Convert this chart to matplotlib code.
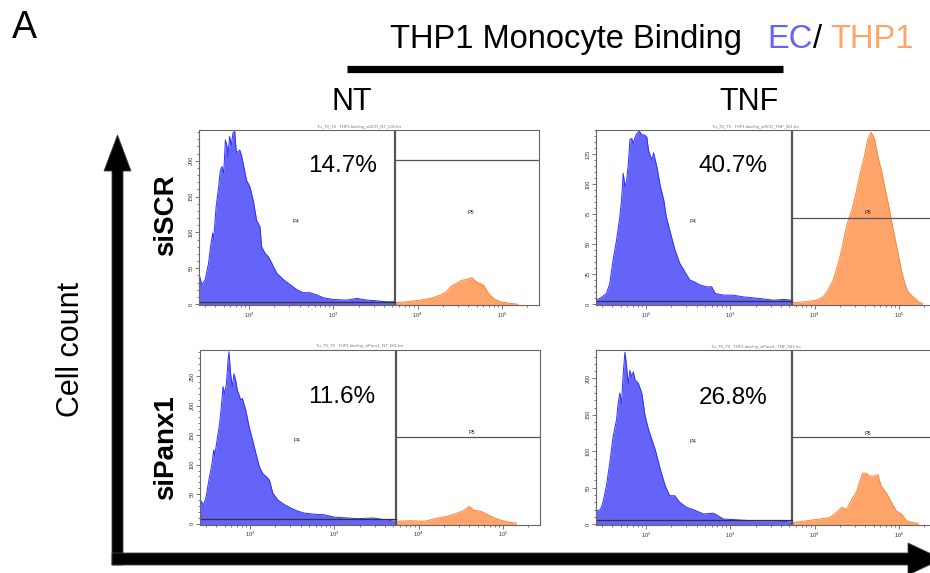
import numpy as np
import matplotlib.pyplot as plt
from matplotlib.patches import FancyArrow
from matplotlib.ticker import LogLocator, MultipleLocator, NullFormatter

plt.rcParams['font.family'] = ['Liberation Sans', 'DejaVu Sans']

W, H = 930, 573

conditions = ['NT', 'TNF']
rows = ['siSCR', 'siPanx1']
percent_labels = ['14.7%', '40.7%', '11.6%', '26.8%']

gate_x = 5400  # EC (P4) / THP1 (P5) split

# histogram outlines: log10(fluorescence) and cell count
# siSCR / NT
scr_nt_ec_log = [1.41, 1.44, 1.48, 1.52, 1.55, 1.57, 1.58, 1.61, 1.64, 1.66, 1.68, 1.70,
                 1.72, 1.74, 1.75, 1.77, 1.79, 1.81, 1.83, 1.85, 1.87, 1.89, 1.91, 1.93,
                 1.97, 2.01, 2.05, 2.09, 2.13, 2.15, 2.19, 2.23, 2.27, 2.33, 2.41, 2.49,
                 2.57, 2.64, 2.72, 2.80, 2.88, 3.00, 3.16, 3.28, 3.40, 3.51, 3.63, 3.73]
scr_nt_ec_n = [41, 27, 34, 57, 85, 99, 90, 136, 164, 187, 192, 183,
               229, 220, 206, 234, 222, 239, 241, 211, 213, 215, 208, 197,
               173, 164, 145, 117, 108, 80, 71, 66, 57, 43, 34, 27,
               20, 16, 16, 13, 9, 6.5, 5.6, 8, 5.6, 4.7, 3.3, 3.3]
scr_nt_thp_log = [3.73, 3.87, 4.03, 4.15, 4.27, 4.34, 4.40, 4.46, 4.52, 4.58, 4.64,
                  4.70, 4.78, 4.84, 4.90, 4.98, 5.10, 5.19]
scr_nt_thp_n = [1.9, 3.3, 5.6, 8, 12.6, 17, 25, 29, 33, 34.5, 37,
                31, 26.6, 15, 8, 3.3, 1, 0]

# siSCR / TNF
scr_tnf_ec_log = [1.41, 1.47, 1.53, 1.57, 1.61, 1.65, 1.69, 1.71, 1.73, 1.75, 1.77, 1.79,
                  1.81, 1.83, 1.85, 1.87, 1.89, 1.92, 1.95, 1.98, 2.01, 2.03, 2.07, 2.09,
                  2.13, 2.17, 2.21, 2.24, 2.28, 2.34, 2.40, 2.46, 2.52, 2.56, 2.64, 2.72,
                  2.78, 2.82, 2.92, 3.03, 3.15, 3.35, 3.51, 3.63, 3.73]
scr_tnf_ec_n = [3.3, 5.6, 8.9, 17, 37, 53, 73, 87, 109, 98, 103, 117,
                137, 138, 134, 139, 142, 144, 141, 141, 139, 128, 120, 126,
                114, 98, 87, 73, 62, 46, 34, 27, 20, 19, 16, 14.4,
                14.4, 8.9, 7.5, 7.5, 6.1, 4.7, 3.3, 3.9, 3.3]
scr_tnf_thp_log = [3.73, 3.90, 4.02, 4.10, 4.16, 4.22, 4.28, 4.32, 4.36, 4.40, 4.44,
                   4.48, 4.51, 4.55, 4.59, 4.63, 4.67, 4.71, 4.75, 4.79, 4.83, 4.87,
                   4.91, 4.95, 4.99, 5.03, 5.07, 5.11, 5.17, 5.23, 5.28]
scr_tnf_thp_n = [1.1, 2, 3.3, 6, 11.7, 20, 34, 45, 59, 70, 78,
                 89, 99, 112, 123, 137, 143, 138, 123, 112, 98, 85,
                 70, 56, 42, 28, 17, 10, 6, 2, 0.5]

# siPanx1 / NT
panx_nt_ec_log = [1.41, 1.45, 1.48, 1.52, 1.55, 1.57, 1.58, 1.61, 1.64, 1.66, 1.68, 1.70,
                  1.72, 1.74, 1.75, 1.77, 1.79, 1.81, 1.83, 1.85, 1.87, 1.89, 1.91, 1.95,
                  1.99, 2.03, 2.07, 2.11, 2.15, 2.19, 2.23, 2.27, 2.33, 2.41, 2.49, 2.57,
                  2.64, 2.76, 2.88, 3.00, 3.16, 3.28, 3.46, 3.59, 3.73]
panx_nt_ec_n = [40, 32, 46, 80, 102, 125, 114, 142, 170, 198, 232, 220,
                237, 277, 291, 254, 232, 254, 243, 226, 218, 209, 212, 192,
                164, 142, 119, 97, 85, 80, 74, 52, 40, 32, 26, 21,
                18, 16, 15, 11, 9.6, 8.4, 9.6, 6.7, 4]
panx_nt_thp_log = [3.73, 3.91, 4.07, 4.23, 4.34, 4.46, 4.54, 4.60, 4.66, 4.74, 4.82,
                   4.90, 4.98, 5.08, 5.16]
panx_nt_thp_n = [4, 5, 4, 9.6, 12.4, 18, 22.5, 29, 22.5, 21, 15,
                 9.6, 5.6, 2.2, 1]

# siPanx1 / TNF
panx_tnf_ec_log = [1.41, 1.46, 1.49, 1.53, 1.57, 1.61, 1.65, 1.67, 1.69, 1.71, 1.73, 1.75,
                   1.77, 1.79, 1.81, 1.83, 1.85, 1.87, 1.91, 1.95, 1.99, 2.03, 2.07, 2.11,
                   2.17, 2.23, 2.28, 2.34, 2.40, 2.48, 2.56, 2.68, 2.80, 2.92, 3.07, 3.27,
                   3.51, 3.73]
panx_tnf_ec_n = [18, 20, 30, 52, 84, 120, 143, 166, 180, 166, 207, 236,
                 216, 193, 211, 202, 209, 198, 193, 180, 148, 130, 116, 102,
                 75, 52, 39, 39, 30, 23, 20, 14, 15, 7, 6, 4.5,
                 4.5, 3]
panx_tnf_thp_log = [3.73, 3.90, 4.06, 4.18, 4.26, 4.32, 4.38, 4.44, 4.50, 4.53, 4.57,
                    4.61, 4.65, 4.71, 4.75, 4.79, 4.85, 4.91, 4.97, 5.03, 5.09, 5.17, 5.23]
panx_tnf_thp_n = [2, 4.5, 7, 9, 16, 23, 20, 34, 45, 57, 70,
                  70, 66, 66, 68, 52, 43, 30, 18, 14, 4.5, 2, 1]

ec_log = [scr_nt_ec_log, scr_tnf_ec_log, panx_nt_ec_log, panx_tnf_ec_log]
ec_n = [scr_nt_ec_n, scr_tnf_ec_n, panx_nt_ec_n, panx_tnf_ec_n]
thp_log = [scr_nt_thp_log, scr_tnf_thp_log, panx_nt_thp_log, panx_tnf_thp_log]
thp_n = [scr_nt_thp_n, scr_tnf_thp_n, panx_nt_thp_n, panx_tnf_thp_n]

# per panel y axis and gate levels (counts)
y_top = [243, 145, 295, 239]
y_step = [50, 25, 50, 50]
p4_level = [3.5, 3, 7, 5]
p5_level = [201, 72, 147, 119]
p4_label_y = [115, 69, 140, 113]
p5_label_y = [124, 74, 150, 121]
file_names = ['siSCR_NT_001.fcs', 'siSCR_TNF_001.fcs', 'siPanx1_NT_001.fcs', 'siPanx1_TNF_001.fcs']

ec_fill, ec_edge = '#6464F8', '#3030FF'
thp_fill, thp_edge = '#FFA56B', '#FF8533'


def fx(x):
    return x / W


def fy(y):
    return 1 - y / H


fig = plt.figure(figsize=(9.3, 5.73), dpi=100)

# overlay in pixel coords for arrows / bar
ov = fig.add_axes([0, 0, 1, 1])
ov.set_xlim(0, W)
ov.set_ylim(H, 0)
ov.axis('off')
ov.add_patch(FancyArrow(117.5, 565, 0, -430, width=11, head_width=27, head_length=36,
                        length_includes_head=True, fc='black', ec='#444444', lw=0.6))
ov.add_patch(FancyArrow(112, 559, 830, 0, width=12, head_width=32, head_length=34,
                        length_includes_head=True, fc='black', ec='#444444', lw=0.6))
ov.plot([347, 783], [68.5, 68.5], color='black', lw=5.2, solid_capstyle='butt')

# panel boxes in pixels: left, top
boxes = [(199, 130), (596, 130), (200, 349.5), (596, 350)]
bw, bh = 340, 175

for i, (left, top) in enumerate(boxes):
    ax = fig.add_axes([fx(left), fy(top + bh), bw / W, bh / H])
    y0 = -0.005 * y_top[i]
    ax.set_xscale('log')
    ax.set_xlim(10 ** 1.407, 10 ** 5.44)
    ax.set_ylim(y0, y_top[i])

    xe = 10 ** np.array(ec_log[i])
    ax.fill_between(xe, y0, ec_n[i], color=ec_fill, lw=0)
    ax.plot(xe, ec_n[i], color=ec_edge, lw=0.7)
    xt = 10 ** np.array(thp_log[i])
    ax.fill_between(xt, y0, thp_n[i], color=thp_fill, lw=0)
    ax.plot(xt, thp_n[i], color=thp_edge, lw=0.7)

    # gates
    ax.axvline(gate_x, color='#555555', lw=1.6)
    ax.plot([10 ** 1.407, gate_x], [p4_level[i]] * 2, color='#333333', lw=0.9)
    ax.plot([gate_x, 10 ** 5.44], [p5_level[i]] * 2, color='#555555', lw=0.9)
    ax.text(10 ** 2.56, p4_label_y[i], 'P4', fontsize=4, ha='center', va='center', color='#222222')
    ax.text(10 ** 4.63, p5_label_y[i], 'P5', fontsize=4, ha='center', va='bottom', color='#222222')

    ax.text(0.47, 1.008, 'Tu_T0_T0   THP1 binding_' + file_names[i], transform=ax.transAxes,
            fontsize=3, color='#777777', ha='center', va='bottom')

    ax.yaxis.set_major_locator(MultipleLocator(y_step[i]))
    ax.yaxis.set_minor_locator(MultipleLocator(y_step[i] / 5))
    ax.xaxis.set_major_locator(LogLocator(base=10, numticks=10))
    ax.xaxis.set_minor_locator(LogLocator(base=10, subs=np.arange(2, 10), numticks=20))
    ax.xaxis.set_minor_formatter(NullFormatter())
    ax.tick_params(which='both', direction='out', width=0.5, color='#444444',
                   labelsize=4, labelcolor='#333333', pad=1)
    ax.tick_params(which='major', length=3)
    ax.tick_params(which='minor', length=1.6)
    ax.tick_params(axis='y', labelrotation=90)
    for lab in ax.get_yticklabels():
        lab.set_va('center')
    for s in ax.spines.values():
        s.set_color('#666666')
        s.set_linewidth(0.8)

# percentages
pct_pos = [(343, 172), (733, 172), (342, 403), (733, 404)]
for (x, y), t in zip(pct_pos, percent_labels):
    fig.text(fx(x), fy(y), t, fontsize=17.5, ha='center', va='baseline')

# header
fig.text(fx(12), fy(38), 'A', fontsize=27, va='baseline')
fig.text(fx(390), fy(48), 'THP1 Monocyte Binding', fontsize=23.5, va='baseline')
fig.text(fx(767), fy(48), 'EC', fontsize=23.5, va='baseline', color='#6464F8')
fig.text(fx(813), fy(48), '/', fontsize=23.5, va='baseline')
fig.text(fx(830), fy(48), 'THP1', fontsize=23.5, va='baseline', color='#FFA56B')
for x, t in zip([352, 749], conditions):
    fig.text(fx(x), fy(110), t, fontsize=22, ha='center', va='baseline')

# row labels
for y, t in zip([215, 448], rows):
    fig.text(fx(166), fy(y), t, fontsize=20, fontweight='bold', rotation=90,
             ha='center', va='center')
fig.text(fx(71), fy(349), 'Cell count', fontsize=22, rotation=90, ha='center', va='center')

fig.savefig('out.png', dpi=100)
